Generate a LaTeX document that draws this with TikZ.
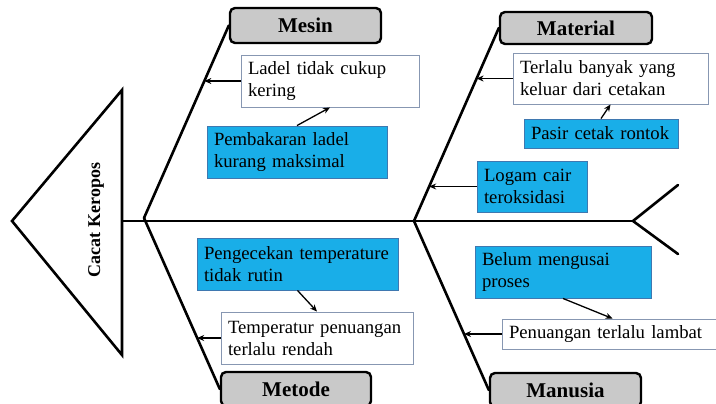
\documentclass[tikz,border=0pt]{standalone}
\usepackage{fontspec}
\setmainfont{Liberation Serif}
\usetikzlibrary{arrows.meta,calc,intersections}
\definecolor{cyanbox}{HTML}{19AEE8}
\definecolor{cyanborder}{HTML}{3F78B0}
\definecolor{whiteborder}{HTML}{8797B2}
\definecolor{catfill}{HTML}{C9C9C9}
\tikzset{
  cat/.style={draw=black, line width=2.4pt, rounded corners=5pt, fill=catfill,
    font=\fontsize{21}{25}\selectfont\bfseries, inner sep=0pt},
  causeW/.style={draw=whiteborder, line width=0.9pt, fill=white,
    font=\fontsize{18.7}{22}\selectfont, align=left, inner xsep=7pt, inner ysep=0pt},
  causeB/.style={causeW, draw=cyanborder, fill=cyanbox},
  bone/.style={line width=2.6pt, line cap=round},
  arr/.style={line width=1.3pt, -{Stealth[length=7pt,width=6pt]}}
}
\begin{document}
\begin{tikzpicture}[x=1pt,y=-1pt]
\useasboundingbox (0,0) rectangle (716,404);
\clip (0,0) rectangle (716,404);

% head
\coordinate (tip) at (12,221);
\coordinate (htop) at (122,90);
\coordinate (hbot) at (122,355);
\coordinate (hmid) at (122,221);
\draw[line width=2.6pt, line join=miter] (tip) -- (htop) -- (hbot) -- cycle;
\node[rotate=90, font=\fontsize{18}{20}\selectfont\bfseries] (effect) at (96,220) {Cacat Keropos};

% spine and tail
\coordinate (tail) at (633,221);
\coordinate (tailU) at (678,185);
\coordinate (tailD) at (678,254);
\coordinate (J1) at (144,218);
\coordinate (J2) at (414,221);
\draw[line width=2.6pt] (hmid) -- (tail);
\draw[bone] (tailU) -- (tail) -- (tailD);

% category boxes
\node[cat, minimum width=151pt, minimum height=35pt] (mesin) at (305.5,25.5) {Mesin};
\node[cat, minimum width=152pt, minimum height=32pt] (material) at (576,28) {Material};
\node[cat, minimum width=150pt, minimum height=34pt] (metode) at (296,389) {Metode};
\node[cat, minimum width=151pt, minimum height=34pt] (manusia) at (565.5,390) {Manusia};

% bones
\draw[bone, name path=b1] (J1) -- (mesin.west);
\draw[bone, name path=b2] (J1) -- (metode.west);
\draw[bone, name path=b3] (J2) -- (material.west);
\draw[bone, name path=b4] (J2) -- (manusia.west);

% cause boxes
\node[causeW, text width=164pt, minimum height=52pt] (ladel) at (330,81) {Ladel tidak cukup\\kering};
\node[causeB, text width=166pt, minimum height=52pt] (pembakaran) at (297,152) {Pembakaran ladel\\kurang maksimal};
\node[causeW, text width=181pt, minimum height=51pt] (terlalu) at (610.5,78.5) {Terlalu banyak yang\\keluar dari cetakan};
\node[causeB, text width=140pt, minimum height=29pt] (pasir) at (601,133.5) {Pasir cetak rontok};
\node[causeB, text width=96pt, minimum height=51pt] (logam) at (532,186.5) {Logam cair\\teroksidasi};
\node[causeB, text width=187pt, minimum height=52pt] (pengecekan) at (297.5,264) {Pengecekan temperature\\tidak rutin};
\node[causeW, text width=178pt, minimum height=52pt] (temperatur) at (317,338) {Temperatur penuangan\\terlalu rendah};
\node[causeB, text width=162pt, minimum height=52pt] (belum) at (563,272) {Belum mengusai\\proses};
\node[causeW, text width=214pt, minimum height=30pt] (penuangan) at (616,334) {Penuangan terlalu lambat};

% horizontal arrows to bones
\path[name path=h1] (ladel.west) -- ++(-120,0);
\path[name intersections={of=h1 and b1, by=i1}];
\draw[arr] (ladel.west) -- (i1);
\path[name path=h2] (terlalu.west) -- ++(-120,0);
\path[name intersections={of=h2 and b3, by=i2}];
\draw[arr] (terlalu.west) -- (i2);
\path[name path=h3] (logam.west) -- ++(-120,0);
\path[name intersections={of=h3 and b3, by=i3}];
\draw[arr] (logam.west) -- (i3);
\path[name path=h4] (temperatur.west) -- ++(-120,0);
\path[name intersections={of=h4 and b2, by=i4}];
\draw[arr] (temperatur.west) -- (i4);
\path[name path=h5] (penuangan.west) -- ++(-120,0);
\path[name intersections={of=h5 and b4, by=i5}];
\draw[arr] (penuangan.west) -- (i5);

% sub-cause arrows
\draw[arr] (pembakaran.north) -- (ladel.south);
\draw[arr] (pasir.north) -- (terlalu.south);
\draw[arr] (pengecekan.south) -- (temperatur.north);
\draw[arr] (belum.south) -- ($(penuangan.north west)+(111,0)$);
\end{tikzpicture}
\end{document}
